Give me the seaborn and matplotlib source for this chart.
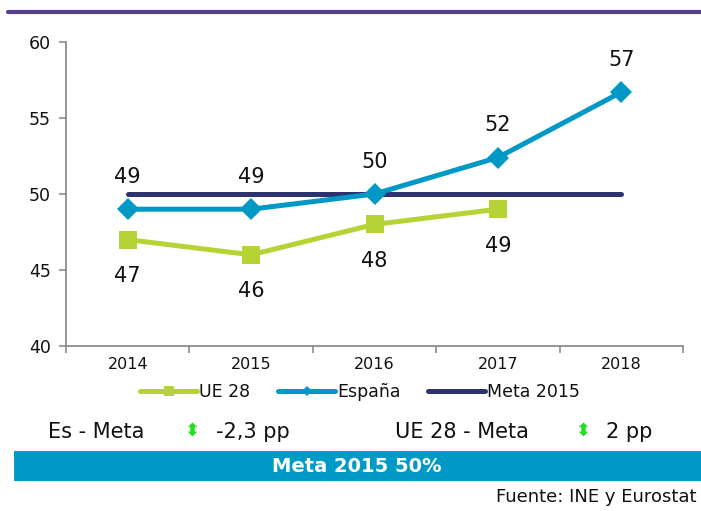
import matplotlib
matplotlib.use("Agg")
import matplotlib.pyplot as plt
import seaborn as sns
import pandas as pd
from matplotlib.lines import Line2D
from matplotlib.patches import Rectangle

years = ["2014", "2015", "2016", "2017", "2018"]
ue28 = [47, 46, 48, 49, None]
espana = [49, 49, 50, 52.4, 56.7]
meta = [50, 50, 50, 50, 50]
ue_labels = ["47", "46", "48", "49", None]
es_labels = ["49", "49", "50", "52", "57"]
yticks = [40, 45, 50, 55, 60]

c_ue = "#b5d334"
c_es = "#0099c6"
c_meta = "#2e3370"
c_purple = "#5b3f8c"

sns.set_theme(style="white")
plt.rcParams["font.family"] = ["DejaVu Sans"]

fig = plt.figure(figsize=(7.01, 5.11), dpi=100)
ax = fig.add_axes([66/701, 1-346/511, (683-66)/701, (346-42)/511])

df = pd.DataFrame({"year": years, "UE 28": ue28, "España": espana, "Meta 2015": meta})
pos = list(range(len(years)))
df["pos"] = pos

sns.lineplot(data=df, x="pos", y="Meta 2015", ax=ax, color=c_meta, linewidth=3.6, zorder=2)
sns.lineplot(data=df.dropna(subset=["UE 28"]), x="pos", y="UE 28", ax=ax, color=c_ue,
             linewidth=3.6, marker="s", markersize=13, markeredgewidth=0, zorder=3)
sns.lineplot(data=df, x="pos", y="España", ax=ax, color=c_es, linewidth=3.6,
             marker="D", markersize=11, markeredgewidth=0, zorder=4)

for p, v, l in zip(pos, espana, es_labels):
    ax.annotate(l, (p, v), xytext=(0, 16), textcoords="offset points",
                ha="center", va="bottom", fontsize=15, color="#111111")
for p, v, l in zip(pos, ue28, ue_labels):
    if l is None:
        continue
    ax.annotate(l, (p, v), xytext=(0, -19), textcoords="offset points",
                ha="center", va="top", fontsize=15, color="#111111")

ax.set_xlim(-0.5, 4.5)
ax.set_ylim(40, 60)
ax.set_yticks(yticks)
ax.set_yticklabels([str(t) for t in yticks], fontsize=12.5, color="#111111")
ax.set_xticks(pos)
ax.set_xticklabels(years, fontsize=11.5, color="#111111")
ax.set_xticks([-0.5, 0.5, 1.5, 2.5, 3.5, 4.5], minor=True)
ax.tick_params(axis="x", which="major", length=0, pad=8)
ax.tick_params(axis="x", which="minor", length=5, color="#8c8c8c", width=1.2, direction="out", bottom=True)
ax.tick_params(axis="y", length=5, color="#8c8c8c", width=1.2, direction="out", left=True, pad=6)
ax.set_xlabel("")
ax.set_ylabel("")
for s in ["top", "right"]:
    ax.spines[s].set_visible(False)
for s in ["left", "bottom"]:
    ax.spines[s].set_color("#8c8c8c")
    ax.spines[s].set_linewidth(1.3)

handles = [Line2D([0], [0], color=c_ue, lw=3.6, marker="s", markersize=7, markeredgewidth=0),
           Line2D([0], [0], color=c_es, lw=3.6, marker="D", markersize=5, markeredgewidth=0),
           Line2D([0], [0], color=c_meta, lw=3.6)]
leg = fig.legend(handles, ["UE 28", "España", "Meta 2015"], loc="center", bbox_to_anchor=(360/701, 1-392/511),
           ncol=3, frameon=False, fontsize=12.5, handlelength=3.3, handletextpad=0.1, columnspacing=1.6)
for t in leg.get_texts():
    t.set_color("#111111")

# top purple rule
fig.add_artist(Line2D([8/701, 1], [1-12/511, 1-12/511], color=c_purple, lw=3, transform=fig.transFigure))

# bottom texts
ty = 1 - 432/511
fig.text(48/701, ty, "Es - Meta", fontsize=15, va="center", ha="left", color="#111111")
fig.text(192/701, ty, "⬍", fontsize=13, va="center", ha="center", color="#22dd22", fontweight="bold")
fig.text(216/701, ty, "-2,3 pp", fontsize=15, va="center", ha="left", color="#111111")
fig.text(395/701, ty, "UE 28 - Meta", fontsize=15, va="center", ha="left", color="#111111")
fig.text(583/701, ty, "⬍", fontsize=13, va="center", ha="center", color="#22dd22", fontweight="bold")
fig.text(606/701, ty, "2 pp", fontsize=15, va="center", ha="left", color="#111111")

fig.add_artist(Rectangle((14/701, 1-481/511), 1-14/701, 30/511, transform=fig.transFigure,
                         facecolor="#009ac7", edgecolor="none"))
fig.text(357/701, 1-466/511, "Meta 2015 50%", fontsize=14, fontweight="bold", color="white",
         ha="center", va="center")
fig.text(697/701, 1-497/511, "Fuente: INE y Eurostat", fontsize=13, ha="right", va="center", color="#111111")

fig.savefig("out.png", dpi=100)
